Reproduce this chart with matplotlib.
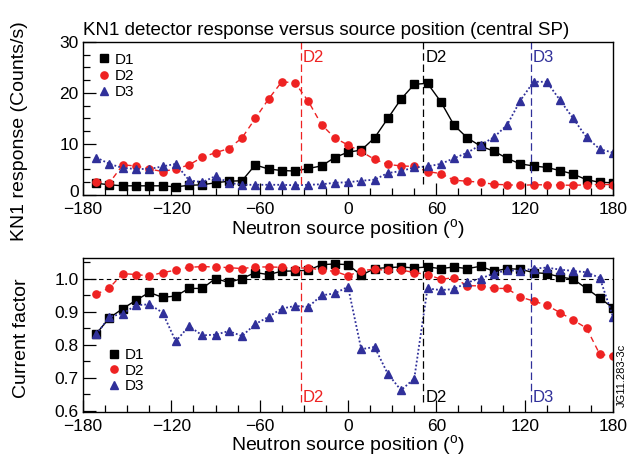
import numpy as np
import matplotlib
matplotlib.use("Agg")
import matplotlib.pyplot as plt
import matplotlib.transforms as mtransforms
from matplotlib.ticker import MultipleLocator

plt.rcParams['font.family'] = ['Liberation Sans', 'DejaVu Sans']
plt.rcParams['mathtext.fontset'] = 'custom'
plt.rcParams['mathtext.rm'] = 'Liberation Sans'

# source positions (degrees)
positions = list(range(-171, 181, 9))

# KN1 response (Counts/s)
resp_d1 = [2.3, 2.0, 1.8, 1.8, 1.8, 1.8, 1.6, 1.9, 2.0, 2.4, 2.7, 2.8, 5.9, 5.1,
           4.8, 4.7, 5.2, 5.7, 7.35, 8.4, 8.8, 11.2, 15.0, 18.8, 21.7, 21.9, 18.3,
           13.7, 11.2, 9.6, 8.6, 7.2, 6.1, 5.7, 5.4, 4.8, 4.1, 3.0, 2.5, 2.4]
resp_d2 = [2.6, 2.4, 5.9, 5.7, 5.1, 4.6, 5.1, 5.9, 7.4, 8.3, 9.1, 11.2, 15.0, 18.8,
           22.2, 22.0, 18.4, 13.8, 11.2, 9.8, 8.5, 7.0, 6.0, 5.7, 5.6, 4.6, 4.2,
           2.9, 2.7, 2.5, 2.1, 2.0, 1.9, 2.0, 2.0, 1.95, 1.9, 2.0, 2.05, 2.05]
resp_d3 = [7.35, 6.1, 5.3, 5.1, 5.1, 5.6, 6.1, 2.9, 2.5, 3.7, 2.4, 2.0, 2.0, 2.0,
           2.0, 1.9, 2.0, 2.1, 2.4, 2.5, 2.8, 3.0, 4.3, 4.7, 5.4, 5.6, 6.1,
           7.2, 8.3, 9.8, 11.3, 13.7, 18.5, 22.2, 22.2, 18.6, 15.0, 11.3, 9.0, 8.3]

# current factor
cf_d1 = [0.833, 0.881, 0.909, 0.934, 0.958, 0.943, 0.947, 0.970, 0.970, 1.000, 0.988,
         1.000, 1.018, 1.012, 1.022, 1.023, 1.025, 1.042, 1.044, 1.042, 1.010, 1.030,
         1.033, 1.035, 1.032, 1.035, 1.030, 1.035, 1.030, 1.037, 1.022, 1.030, 1.028,
         1.018, 1.015, 1.005, 0.998, 0.970, 0.941, 0.911]
cf_d2 = [0.952, 0.972, 1.015, 1.012, 1.008, 1.018, 1.025, 1.034, 1.036, 1.035, 1.033,
         1.030, 1.035, 1.035, 1.034, 1.030, 1.033, 1.025, 1.022, 1.008, 1.024, 1.028,
         1.025, 1.026, 1.018, 1.012, 0.998, 1.002, 0.978, 0.978, 0.970, 0.970, 0.944,
         0.932, 0.919, 0.897, 0.874, 0.850, 0.771, 0.765]
cf_d3 = [0.831, 0.884, 0.894, 0.919, 0.922, 0.897, 0.810, 0.856, 0.828, 0.830, 0.841,
         0.826, 0.862, 0.884, 0.909, 0.917, 0.914, 0.949, 0.955, 0.975, 0.786, 0.793,
         0.712, 0.662, 0.697, 0.970, 0.965, 0.968, 0.988, 1.000, 1.015, 1.025, 1.023,
         1.030, 1.033, 1.027, 1.023, 1.019, 1.002, 0.884]

series_names = ["D1", "D2", "D3"]
detector_pos = [-32, 51, 124]
detector_labels = ["D2", "D2", "D3"]

C_BLACK = "black"
C_RED = "#ee2222"
C_BLUE = "#30309a"
colors = [C_BLACK, C_RED, C_BLUE]
detector_colors = [C_RED, C_BLACK, C_BLUE]
styles = [dict(marker='s', ls='-', ms=5.8, lw=1.0),
          dict(marker='o', ls=(0, (4, 3)), ms=5.2, lw=1.0),
          dict(marker='^', ls=(0, (1, 1.2)), ms=5.5, lw=1.3)]

fig = plt.figure(figsize=(6.43, 4.63), dpi=100)
ax1 = fig.add_axes([83/643, 1-195/463, 530/643, 153/463])
ax2 = fig.add_axes([83/643, 1-411.7/463, 530/643, 154/463])

def style_axis(ax):
    ax.set_xlim(-180, 180)
    ax.xaxis.set_minor_locator(MultipleLocator(15))
    ax.tick_params(which='both', direction='in', top=False, right=False,
                   labelsize=12.5, width=0.9)
    ax.tick_params(axis='x', which='both', pad=5)
    ax.tick_params(axis='y', which='both', pad=3)
    ax.tick_params(which='major', length=9)
    ax.tick_params(which='minor', length=5)
    for s in ax.spines.values():
        s.set_linewidth(1.0)
    ax.set_xticks([-180, -120, -60, 0, 60, 120, 180])
    ax.set_xticklabels(["\u2212180", "\u2212120", "\u221260", "0", "60", "120", "180"])
    ax.set_xlabel(r"Neutron source position ($^{\mathrm{o}}$)", fontsize=14, labelpad=0)

# top panel
for ys, c, st, n in zip([resp_d1, resp_d2, resp_d3], colors, styles, series_names):
    ax1.plot(positions, ys, color=c, label=n, **st)
style_axis(ax1)
ax1.set_ylim(0, 30)
ax1.set_yticks([0, 10, 20, 30])
ax1.set_yticklabels(["0", "10", "20", "30"])
ax1.yaxis.set_minor_locator(MultipleLocator(2.5))
# nudge the "0" label up slightly (as in the reference) so it clears "-180"
lbl0 = ax1.get_yticklabels()[0]
lbl0.set_transform(lbl0.get_transform() +
                   mtransforms.ScaledTranslation(0, 4/100, fig.dpi_scale_trans))
ax1.set_ylabel("KN1 response (Counts/s)", fontsize=14)
ax1.yaxis.set_label_coords(-0.104, 0.42)
ax1.set_title("KN1 detector response versus source position (central SP)",
              fontsize=13.5, loc='left', pad=5, x=0.0)
for xp, lab, c in zip(detector_pos, detector_labels, detector_colors):
    ax1.axvline(xp, ymin=0.07, ymax=1.0, color=c, ls=(0, (6, 3)), lw=0.9)
    ax1.text(xp + 1.5, 28.5, lab, color=c, fontsize=12, va='top', ha='left')
ax1.legend([plt.Line2D([], [], color=c, marker=st['marker'], ls='none', ms=st['ms'])
            for c, st in zip(colors, styles)], series_names,
           loc='upper left', bbox_to_anchor=(0.01, 0.99), frameon=False,
           fontsize=11, handlelength=0.8, handletextpad=0.3,
           labelspacing=0.15, borderaxespad=0.2)

# bottom panel
ax2.axhline(1.0, color='black', ls=(0, (4, 3)), lw=0.8)
for ys, c, st, n in zip([cf_d1, cf_d2, cf_d3], colors, styles, series_names):
    ax2.plot(positions, ys, color=c, label=n, **st)
style_axis(ax2)
ax2.set_ylim(0.597, 1.063)
ax2.set_yticks([0.6, 0.7, 0.8, 0.9, 1.0])
ax2.set_yticklabels(["0.6", "0.7", "0.8", "0.9", "1.0"])
ax2.yaxis.set_minor_locator(MultipleLocator(0.05))
ax2.set_ylabel("Current factor", fontsize=14)
ax2.yaxis.set_label_coords(-0.1, 0.48)
for xp, lab, c in zip(detector_pos, detector_labels, detector_colors):
    ax2.axvline(xp, ymin=0.06, ymax=1.0, color=c, ls=(0, (6, 3)), lw=0.9)
    ax2.text(xp + 1.5, 0.618, lab, color=c, fontsize=12, va='bottom', ha='left')
ax2.legend([plt.Line2D([], [], color=c, marker=st['marker'], ls='none', ms=st['ms'])
            for c, st in zip(colors, styles)], series_names,
           loc='lower left', bbox_to_anchor=(0.03, 0.06), frameon=False,
           fontsize=11, handlelength=0.8, handletextpad=0.3,
           labelspacing=0.1, borderaxespad=0.2)

fig.text(622/643, 1-375/463, "JG11.283-3c", rotation=90, fontsize=8,
         ha='center', va='center')

fig.savefig("out.png", dpi=100)
